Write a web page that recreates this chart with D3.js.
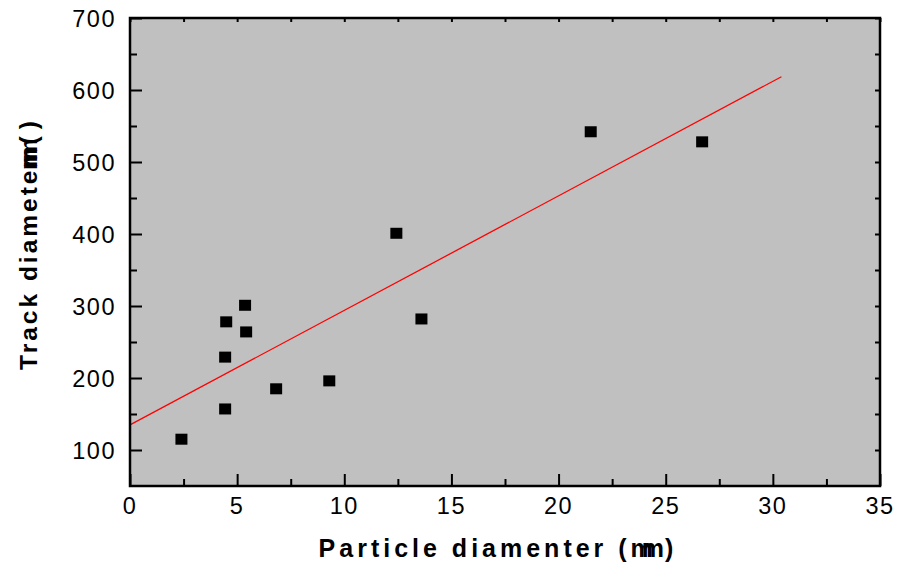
<!DOCTYPE html>
<html>
<head>
<script src="https://cdn.jsdelivr.net/npm/d3@7"></script>
<style>
  body { margin: 0; background: #fff; }
  text { font-family: "Liberation Sans", Arial, sans-serif; }
</style>
</head>
<body>
<svg id="chart" width="899" height="571"></svg>
<script>
// particle diameter vs track diameter
const particleD = [2.4, 4.44, 4.44, 4.49, 5.37, 5.42, 6.82, 9.3, 12.43, 13.6, 21.5, 26.7]
const trackD = [115, 157, 229, 278, 301, 264, 185, 196, 401, 282, 542, 528]
const xTicks = [0, 5, 10, 15, 20, 25, 30, 35]
const yTicks = [100, 200, 300, 400, 500, 600, 700]
const fitRange = [0, 30.4]

const svg = d3.select('#chart')
const pL = 130, pR = 880, pT = 18, pB = 486

const x = d3.scaleLinear().domain([0, 35]).range([pL, pR])
const y = d3.scaleLinear().domain([50, 700]).range([pB, pT])

// plot background
svg.append('rect')
    .attr('x', pL).attr('y', pT)
    .attr('width', pR - pL).attr('height', pB - pT)
    .attr('fill', '#c0c0c0')

// least squares line
const mx = d3.mean(particleD), my = d3.mean(trackD)
const sxy = d3.sum(particleD, (v, i) => (v - mx) * (trackD[i] - my))
const sxx = d3.sum(particleD, v => (v - mx) * (v - mx))
const slope = sxy / sxx, icpt = my - slope * mx

const lineFn = d3.line().x(d => x(d)).y(d => y(icpt + slope * d))
svg.append('path')
    .attr('d', lineFn(fitRange))
    .attr('fill', 'none')
    .attr('stroke', '#ff0000')
    .attr('stroke-width', 1.3)

// points
svg.selectAll('.pt').data(particleD).enter().append('rect')
    .attr('class', 'pt')
    .attr('x', d => x(d) - 6)
    .attr('y', (d, i) => y(trackD[i]) - 5.5)
    .attr('width', 12).attr('height', 11)
    .attr('fill', '#000')

// ticks (inward), major + minor
const xMinor = d3.range(2.5, 35, 5)
const yMinor = d3.range(150, 700, 100)

const bottomAx = d3.axisBottom(x).tickValues(xTicks).tickSize(-12).tickFormat('')
const bottomMin = d3.axisBottom(x).tickValues(xMinor).tickSize(-7).tickFormat('')
const leftAx = d3.axisLeft(y).tickValues(yTicks).tickSize(-12).tickFormat('')
const leftMin = d3.axisLeft(y).tickValues(yMinor).tickSize(-7).tickFormat('')
const topMin = d3.axisTop(x).tickValues(xTicks.concat(xMinor)).tickSize(-4).tickFormat('')
const rightMin = d3.axisRight(y).tickValues(yTicks.concat(yMinor)).tickSize(-5).tickFormat('')

function addAxis(ax, tr) {
    const g = svg.append('g').attr('transform', tr).call(ax)
    g.select('.domain').remove()
    g.selectAll('line').attr('stroke', '#000').attr('stroke-width', 2)
}
addAxis(bottomAx, `translate(0,${pB})`)
addAxis(bottomMin, `translate(0,${pB})`)
addAxis(leftAx, `translate(${pL},0)`)
addAxis(leftMin, `translate(${pL},0)`)
addAxis(topMin, `translate(0,${pT})`)
addAxis(rightMin, `translate(${pR},0)`)

// frame
svg.append('rect')
    .attr('x', pL).attr('y', pT)
    .attr('width', pR - pL).attr('height', pB - pT)
    .attr('fill', 'none')
    .attr('stroke', '#000').attr('stroke-width', 2.5)

// tick labels
svg.selectAll('.xl').data(xTicks).enter().append('text')
    .attr('x', d => x(d)).attr('y', 514)
    .attr('text-anchor', 'middle')
    .attr('font-size', 23.5).attr('letter-spacing', 1.5)
    .text(d => d)

svg.selectAll('.yl').data(yTicks).enter().append('text')
    .attr('x', 116).attr('y', d => y(d) + 8.5)
    .attr('text-anchor', 'end')
    .attr('font-size', 23.5).attr('letter-spacing', 1.5)
    .text(d => d)

// axis titles
const xt = svg.append('text')
    .attr('x', 498).attr('y', 557)
    .attr('text-anchor', 'middle')
    .attr('font-size', 25).attr('font-weight', 'bold')
    .attr('letter-spacing', 4)
xt.append('tspan').text('Particle diamenter (')
xt.append('tspan').attr('letter-spacing', -11).text('mm')
xt.append('tspan').attr('dx', 12).text(')')

const yt = svg.append('text')
    .attr('transform', 'translate(37,242) rotate(-90)')
    .attr('text-anchor', 'middle')
    .attr('font-size', 24.5).attr('font-weight', 'bold')
    .attr('letter-spacing', 3)
yt.append('tspan').text('Track diamete')
yt.append('tspan').attr('letter-spacing', -12).text('rmm')
yt.append('tspan').attr('dx', 6).attr('letter-spacing', 7).text('()')
</script>
</body>
</html>
